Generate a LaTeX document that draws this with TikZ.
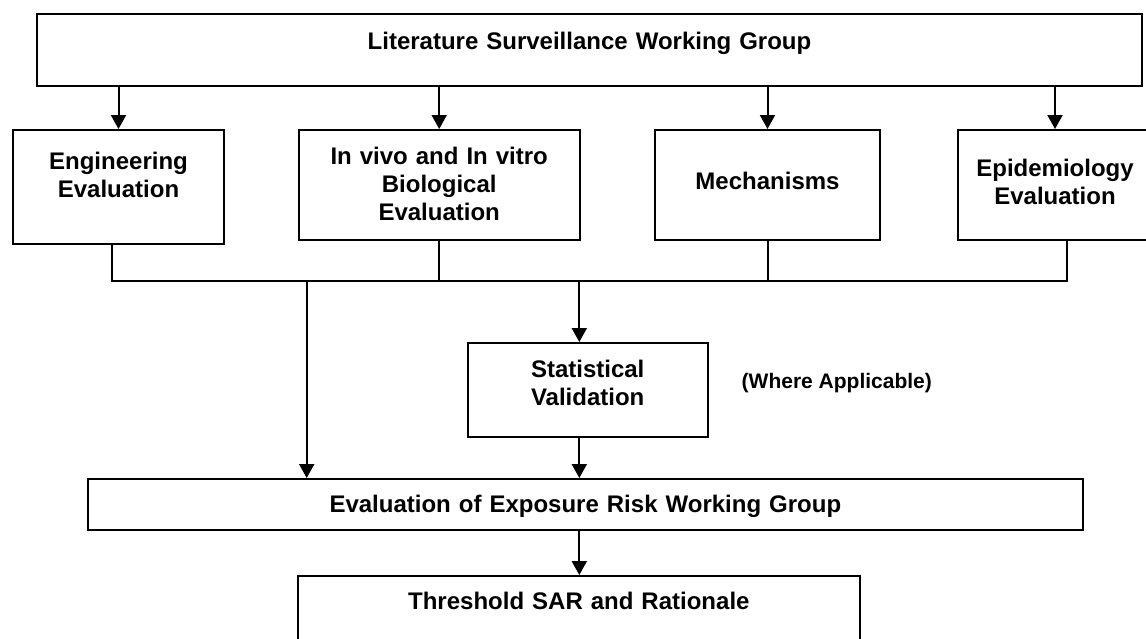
\documentclass[tikz,border=0pt]{standalone}
\usepackage{fontspec}
\setmainfont{Liberation Sans}
\usetikzlibrary{arrows.meta}

\newcommand{\boxfont}{\fontsize{24}{28}\selectfont\bfseries}
\newcommand{\notefont}{\fontsize{21}{25}\selectfont\bfseries}

\begin{document}
\begin{tikzpicture}[x=1pt, y=-1pt, line width=2pt,
    box/.style={draw, inner sep=0pt, align=center, anchor=north west, font=\boxfont},
    arr/.style={-{Triangle[length=14pt, width=15pt]}}]
    % page frame
    \useasboundingbox (0,0) rectangle (1146,638);
    \clip (0,0) rectangle (1146,638);

    % working groups and evaluations
    \node[box, text width=1105pt, text height=35.5pt, text depth=36.5pt] (lit) at (36,13) {Literature Surveillance Working Group};
    \node[box, text width=211pt, text height=39.5pt, text depth=74.5pt] (eng) at (12,129) {Engineering\\Evaluation};
    \node[box, text width=281pt, text height=34pt, text depth=76pt] (vivo) at (297.7,129) {In vivo and In vitro\\Biological\\Evaluation};
    \node[box, text width=225pt, text height=59.5pt, text depth=50.5pt] (mech) at (654,129) {Mechanisms};
    \node[box, text width=194.6pt, text height=46.5pt, text depth=63.5pt] (epi) at (956.7,129) {Epidemiology\\Evaluation};
    \node[box, text width=240pt, text height=34.7pt, text depth=59.3pt] (stat) at (466.7,342) {Statistical\\Validation};
    \node[anchor=base west, inner sep=0pt, font=\notefont] (note) at (740.7,388.3) {(Where Applicable)};
    \node[box, text width=994.7pt, text height=33pt, text depth=18pt] (eval) at (87,478) {Evaluation of Exposure Risk Working Group};
    \node[box, text width=561.7pt, text height=33.3pt, text depth=80pt] (thr) at (297,575) {Threshold SAR and Rationale};

    % arrows from the surveillance group
    \foreach \b in {eng, vivo, mech, epi}
        \draw[arr] (lit.south -| \b.north) -- (\b.north);

    % collecting line
    \coordinate (busL) at (112,281);
    \coordinate (busR) at (1066.7,281);
    \draw (busL |- eng.south) -- (busL) -- (busR) -- (busR |- epi.south);
    \draw (vivo.south) -- (vivo.south |- busL);
    \draw (mech.south) -- (mech.south |- busL);

    % down to the exposure risk group
    \coordinate (spine) at (579.3,281);
    \coordinate (side) at (306.7,281);
    \draw[arr] (spine) -- (spine |- stat.north);
    \draw[arr] (spine |- stat.south) -- (spine |- eval.north);
    \draw[arr] (side) -- (side |- eval.north);
    \draw[arr] (spine |- eval.south) -- (spine |- thr.north);
\end{tikzpicture}
\end{document}
